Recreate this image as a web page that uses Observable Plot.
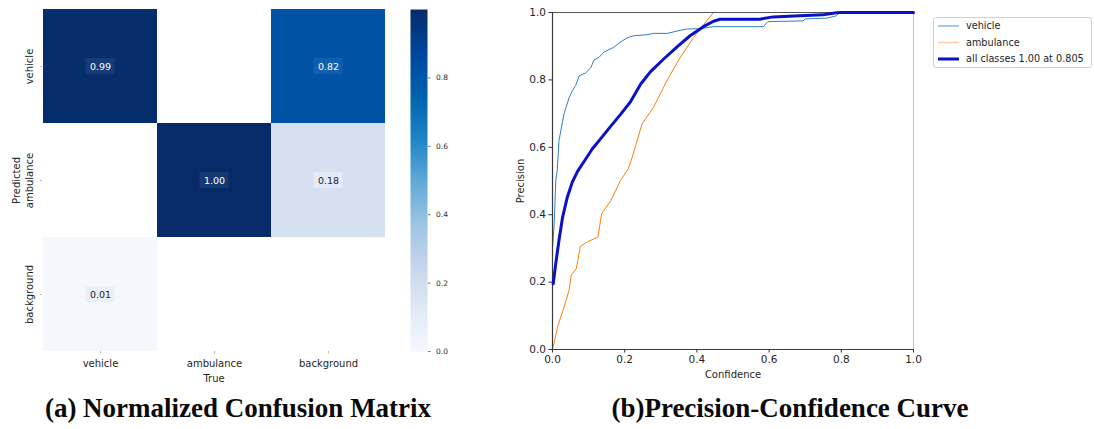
<!DOCTYPE html>
<html>
<head>
<meta charset="utf-8">
<script src="https://cdn.jsdelivr.net/npm/d3@7"></script>
<script src="https://cdn.jsdelivr.net/npm/@observablehq/plot@0.6"></script>
<style>
  html, body { margin: 0; padding: 0; background: #fff; }
  #root { position: relative; width: 1094px; height: 429px; background: #fff; overflow: hidden; font-family: "DejaVu Sans", sans-serif; }
  .abs { position: absolute; }
  .caption { position: absolute; width: 600px; text-align: center; font-family: "Liberation Serif", "Times New Roman", serif; font-weight: bold; font-size: 27px; line-height: 27px; color: #0a0a0a; white-space: nowrap; }
  .legend { position: absolute; left: 933px; top: 17px; width: 157px; height: 49px; border: 1px solid #d0d0d0; border-radius: 3px; background: #fff; }
</style>
</head>
<body>
<div id="root"></div>
<script>
// ---------------- Data ----------------
const classLabels = ["vehicle", "ambulance", "background"];
// non-empty cells of the normalized confusion matrix
const cmPredicted = ["vehicle", "vehicle", "ambulance", "ambulance", "background"];
const cmTrue      = ["vehicle", "background", "ambulance", "background", "vehicle"];
const cmValue     = [0.99, 0.82, 1.00, 0.18, 0.01];
const colorbarTicks = [0, 0.2, 0.4, 0.6, 0.8];
// "Blues" colormap as it appears in the reference picture
const bluesColors = ["#f6f9fd", "#e0e9f5", "#c6d6ec", "#9cc4e3", "#5fa8d8", "#1c84c4", "#0062ae", "#0045a0", "#062b68"];

const vehicleConf = [0, 0.005, 0.009, 0.013, 0.018, 0.032, 0.046, 0.055, 0.064, 0.074, 0.092, 0.106, 0.115, 0.129, 0.142, 0.17, 0.188, 0.207, 0.225, 0.262, 0.28, 0.317, 0.354, 0.372, 0.409, 0.446, 0.584, 0.597, 0.694, 0.70, 0.758, 0.786, 0.795, 1.0];
const vehiclePrec = [0.30, 0.38, 0.50, 0.53, 0.62, 0.70, 0.747, 0.768, 0.783, 0.812, 0.821, 0.836, 0.859, 0.867, 0.882, 0.897, 0.912, 0.925, 0.931, 0.934, 0.938, 0.938, 0.947, 0.951, 0.952, 0.958, 0.958, 0.973, 0.975, 0.981, 0.983, 0.99, 1.0, 1.0];

const ambulanceConf = [0, 0.004, 0.014, 0.032, 0.046, 0.052, 0.066, 0.077, 0.096, 0.126, 0.136, 0.162, 0.188, 0.21, 0.221, 0.248, 0.28, 0.317, 0.354, 0.391, 0.427, 0.446, 1.0];
const ambulancePrec = [0.005, 0.017, 0.067, 0.126, 0.176, 0.22, 0.24, 0.306, 0.319, 0.334, 0.403, 0.442, 0.501, 0.536, 0.571, 0.669, 0.719, 0.798, 0.867, 0.926, 0.975, 1.0, 1.0];

const allConf = [0.002, 0.009, 0.018, 0.028, 0.041, 0.055, 0.069, 0.087, 0.11, 0.133, 0.161, 0.188, 0.216, 0.244, 0.271, 0.308, 0.345, 0.381, 0.418, 0.446, 0.464, 0.574, 0.611, 0.685, 0.749, 0.786, 0.80, 1.0];
const allPrec = [0.195, 0.255, 0.324, 0.393, 0.452, 0.497, 0.528, 0.557, 0.595, 0.625, 0.662, 0.697, 0.735, 0.787, 0.824, 0.862, 0.898, 0.931, 0.958, 0.974, 0.98, 0.98, 0.987, 0.99, 0.993, 0.999, 1.0, 1.0];

const xTicks = [0, 0.2, 0.4, 0.6, 0.8, 1.0];
const yTicks = [0, 0.2, 0.4, 0.6, 0.8, 1.0];
const legendLabels = ["vehicle", "ambulance", "all classes 1.00 at 0.805"];
const captionA = "(a) Normalized Confusion Matrix";
const captionB = "(b)Precision-Confidence Curve";

// ---------------- Build ----------------
const root = document.getElementById("root");
const cm = cmValue.map((v, i) => ({p: cmPredicted[i], t: cmTrue[i], v}));
const zip = (cs, ps) => cs.map((c, i) => ({c, p: ps[i]}));
const vehicle = zip(vehicleConf, vehiclePrec);
const ambulance = zip(ambulanceConf, ambulancePrec);
const allClasses = zip(allConf, allPrec);
const colorScale = {type: "linear", domain: bluesColors.map((_, i) => i / (bluesColors.length - 1)), range: bluesColors, interpolate: "rgb"};

function place(el, left, top) {
  el.classList.add("abs");
  el.style.left = left + "px";
  el.style.top = top + "px";
  root.appendChild(el);
}

// Confusion matrix
const cmPlot = Plot.plot({
  width: 400, height: 390,
  marginLeft: 42, marginRight: 15, marginTop: 9, marginBottom: 39,
  style: {fontFamily: "DejaVu Sans, sans-serif", background: "transparent"},
  x: {domain: classLabels, padding: 0},
  y: {domain: classLabels, padding: 0},
  color: colorScale,
  marks: [
    Plot.cell(cm, {x: "t", y: "p", fill: "v"}),
    Plot.cell(cm, {x: "t", y: "p", fill: d => d.v > 0.1 ? "white" : "#5a7fb0",
      fillOpacity: d => d.v > 0.5 ? 0.07 : (d.v > 0.1 ? 0.35 : 0.06),
      insetLeft: 42.5, insetRight: 42.5, insetTop: 49, insetBottom: 49}),
    Plot.text(cm, {x: "t", y: "p", text: d => d.v.toFixed(2), fill: d => d.v > 0.5 ? "white" : "#262626", fontSize: 9.5}),
    Plot.axisX({tickSize: 2.5, tickPadding: 6, fontSize: 10, label: null, stroke: "#bbb", fill: "#262626"}),
    Plot.axisY({tickSize: 2, tickFormat: () => "", label: null, stroke: "#bbb"}),
    Plot.text(classLabels, {y: d => d, text: d => d, frameAnchor: "left", dx: -12.5, rotate: -90, textAnchor: "middle", lineAnchor: "middle", fontSize: 10, fill: "#262626"}),
    Plot.text(["Predicted"], {text: d => d, frameAnchor: "left", dx: -26, rotate: -90, textAnchor: "middle", lineAnchor: "middle", fontSize: 10, fill: "#262626"}),
    Plot.text(["True"], {text: d => d, frameAnchor: "bottom", dy: 27.5, lineAnchor: "middle", fontSize: 10, fill: "#262626"})
  ]
});
place(cmPlot, 0, 0);

// Colorbar
const cbPlot = Plot.plot({
  width: 60, height: 390,
  marginLeft: 10, marginRight: 33, marginTop: 9, marginBottom: 39,
  style: {fontFamily: "DejaVu Sans, sans-serif", background: "transparent"},
  x: {domain: [0, 1], axis: null},
  y: {domain: [0, 1]},
  color: colorScale,
  marks: [
    Plot.raster({x1: 0, x2: 1, y1: 0, y2: 1, width: 1, height: 300, fill: (x, y) => y}),
    Plot.axisY({anchor: "right", ticks: colorbarTicks, tickFormat: d3.format(".1f"), tickSize: 2.5, tickPadding: 6, fontSize: 7.5, label: null, stroke: "#777", fill: "#262626"})
  ]
});
place(cbPlot, 400, 0);

// Precision-Confidence curve
const vehicleColor = "#2d7fc6";
const ambulanceColor = "#ff7f0e";
const allColor = "#0a12c8";
const pcPlot = Plot.plot({
  width: 430, height: 390,
  marginLeft: 52, marginRight: 17, marginTop: 12, marginBottom: 41,
  style: {fontFamily: "DejaVu Sans, sans-serif", background: "transparent"},
  x: {domain: [0, 1]},
  y: {domain: [0, 1]},
  marks: [
    Plot.line(vehicle, {x: "c", y: "p", stroke: vehicleColor, strokeWidth: 1}),
    Plot.line(ambulance, {x: "c", y: "p", stroke: ambulanceColor, strokeWidth: 1}),
    Plot.ruleX([1], {stroke: "#c4c4c4", strokeWidth: 1}),
    Plot.ruleY([0], {stroke: "#3a3a3a", strokeWidth: 1.2}),
    Plot.ruleY([1], {stroke: "#555", strokeWidth: 1.2}),
    Plot.ruleX([0], {stroke: "#3a3a3a", strokeWidth: 1.2}),
    Plot.line(allClasses, {x: "c", y: "p", stroke: allColor, strokeWidth: 3}),
    Plot.axisX({ticks: xTicks, tickFormat: d3.format(".1f"), tickSize: 3.5, tickPadding: 2.5, fontSize: 10.5, label: null, stroke: "#333", fill: "#262626"}),
    Plot.axisY({ticks: yTicks, tickFormat: d3.format(".1f"), tickSize: 3.5, tickPadding: 3, fontSize: 10.5, label: null, stroke: "#333", fill: "#262626"}),
    Plot.text(["Confidence"], {text: d => d, frameAnchor: "bottom", dy: 25, lineAnchor: "middle", fontSize: 10, fill: "#262626"}),
    Plot.text(["Precision"], {text: d => d, frameAnchor: "left", dx: -32, rotate: -90, textAnchor: "middle", lineAnchor: "middle", fontSize: 10, fill: "#262626"})
  ]
});
place(pcPlot, 500, 0);

// Legend
const legend = document.createElement("div");
legend.className = "legend";
const legendColors = ["#6aa6de", "#ffcba6", allColor];
const legendWidths = [1.2, 1.5, 3];
const ns = "http://www.w3.org/2000/svg";
const lsvg = document.createElementNS(ns, "svg");
lsvg.setAttribute("width", 157);
lsvg.setAttribute("height", 49);
legendLabels.forEach((lab, i) => {
  const cy = 8 + i * 16.5;
  const ln = document.createElementNS(ns, "line");
  ln.setAttribute("x1", 4); ln.setAttribute("x2", 25);
  ln.setAttribute("y1", cy); ln.setAttribute("y2", cy);
  ln.setAttribute("stroke", legendColors[i]);
  ln.setAttribute("stroke-width", legendWidths[i]);
  lsvg.appendChild(ln);
  const tx = document.createElementNS(ns, "text");
  tx.setAttribute("x", 32); tx.setAttribute("y", cy);
  tx.setAttribute("dy", "0.35em");
  tx.setAttribute("font-family", "DejaVu Sans, sans-serif");
  tx.setAttribute("font-size", 9.7);
  tx.setAttribute("fill", "#262626");
  tx.textContent = lab;
  lsvg.appendChild(tx);
});
legend.appendChild(lsvg);
root.appendChild(legend);

// Captions
function caption(text, cx) {
  const d = document.createElement("div");
  d.className = "caption";
  d.style.left = (cx - 300) + "px";
  d.style.top = "395px";
  d.textContent = text;
  root.appendChild(d);
}
caption(captionA, 238);
caption(captionB, 790);
</script>
</body>
</html>
